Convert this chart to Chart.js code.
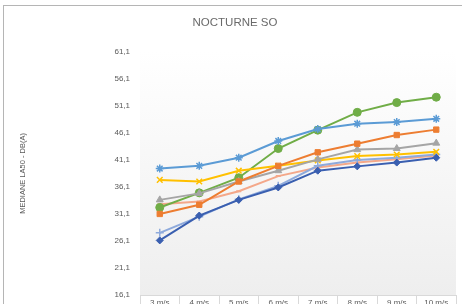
<!DOCTYPE html>
<html>
<head>
<meta charset="utf-8">
<script src="https://cdn.jsdelivr.net/npm/chart.js"></script>
<style>
  html, body { margin: 0; padding: 0; background: #fff; overflow: hidden; }
  #wrap { position: relative; width: 462px; height: 304px; overflow: hidden; }
  #frame { position: absolute; left: 3px; top: 5px; width: 500px; height: 400px;
           border-left: 1px solid #b5b5b5; border-top: 1px solid #b5b5b5; pointer-events: none; }
  canvas { position: absolute; left: 0; top: 0; }
</style>
</head>
<body>
<div id="wrap">
  <canvas id="chart" width="462" height="320"></canvas>
  <div id="frame"></div>
</div>
<script>
// wind speed categories
const categories = ['3 m/s', '4 m/s', '5 m/s', '6 m/s', '7 m/s', '8 m/s', '9 m/s', '10 m/s'];
const yTicks = [16.1, 21.1, 26.1, 31.1, 36.1, 41.1, 46.1, 51.1, 56.1, 61.1];

// values
const diamondSeries = [26.2, 30.8, 33.7, 36.0, 39.1, 39.9, 40.6, 41.5];
const squareSeries = [31.1, 32.8, 37.1, 40.0, 42.5, 44.1, 45.7, 46.7];
const triangleSeries = [33.7, 34.9, 37.1, 39.1, 41.2, 43.0, 43.2, 44.2];
const xSeries = [37.4, 37.1, 39.1, 40.0, 41.0, 41.8, 42.1, 42.6];
const starSeries = [39.5, 40.0, 41.5, 44.6, 46.8, 47.8, 48.1, 48.7];
const circleSeries = [32.3, 35.0, 37.8, 43.2, 46.6, 49.9, 51.7, 52.7];
const plusSeries = [27.6, 30.6, 33.8, 36.3, 40.0, 41.1, 41.5, 42.1];
const dashSeries = [32.9, 33.4, 35.3, 38.1, 39.7, 40.6, 41.2, 41.9];

const FONT = 'Liberation Sans, Arial, sans-serif';
const GREY = '#595959';

function line(label, data, color, style, radius, bw) {
  return {
    label: label,
    data: data,
    borderColor: color,
    backgroundColor: color,
    borderWidth: 2,
    pointStyle: style,
    pointRadius: radius,
    pointBorderWidth: bw,
    pointBorderColor: color,
    pointBackgroundColor: color,
    tension: 0
  };
}

// plot area gradient, like the Excel one
const plotBg = {
  id: 'plotBg',
  beforeDraw(chart) {
    const a = chart.chartArea;
    const ctx = chart.ctx;
    const g = ctx.createLinearGradient(0, a.top, 0, a.bottom);
    g.addColorStop(0, '#ffffff');
    g.addColorStop(1, '#eeeeee');
    ctx.save();
    ctx.fillStyle = g;
    ctx.fillRect(a.left, a.top - 10, a.right - a.left, a.bottom - a.top + 10);
    ctx.restore();
  }
};

new Chart(document.getElementById('chart').getContext('2d'), {
  type: 'line',
  data: {
    labels: categories,
    datasets: [
      line('Série 1', diamondSeries, '#3a5fb0', 'rectRot', 3.5, 1),
      line('Série 2', squareSeries, '#ed7d31', 'rect', 3.8, 1),
      line('Série 3', triangleSeries, '#a5a5a5', 'triangle', 4, 1),
      line('Série 4', xSeries, '#ffc000', 'crossRot', 4, 1.5),
      line('Série 5', starSeries, '#5b9bd5', 'star', 4, 1.5),
      line('Série 6', circleSeries, '#70ad47', 'circle', 4, 1),
      line('Série 7', plusSeries, '#8eaadc', 'cross', 4, 1.5),
      line('Série 8', dashSeries, '#f4a88a', 'line', 2.5, 2)
    ]
  },
  options: {
    responsive: false,
    animation: false,
    layout: { padding: { left: 10, right: 2, top: 0, bottom: 0 } },
    plugins: {
      legend: { display: false },
      tooltip: { enabled: false },
      title: {
        display: true,
        text: 'NOCTURNE SO',
        color: '#6a6a6a',
        font: { family: FONT, size: 11.5, weight: 'normal' },
        padding: { top: 16, bottom: 22 }
      }
    },
    scales: {
      x: {
        offset: true,
        grid: { offset: true, drawOnChartArea: false, drawTicks: true, tickLength: 14, color: '#d9d9d9' },
        border: { color: '#d9d9d9' },
        ticks: { color: GREY, font: { family: FONT, size: 8 }, padding: -11, maxRotation: 0, autoSkip: false },
        afterFit(s) { s.height = 25; }
      },
      y: {
        min: 16.1,
        max: 61.1,
        afterBuildTicks(s) { s.ticks = yTicks.map(v => ({ value: v })); },
        ticks: {
          color: GREY,
          font: { family: FONT, size: 8 },
          padding: 10,
          callback: v => v.toFixed(1).replace('.', ',')
        },
        grid: { display: false, drawTicks: false },
        border: { display: false },
        title: {
          display: true,
          text: 'MEDIANE LA50 - DB(A)',
          color: GREY,
          font: { family: FONT, size: 7.5 },
          padding: { top: 8, bottom: 0 }
        },
        afterFit(s) { s.width = 130; }
      }
    }
  },
  plugins: [plotBg]
});
</script>
</body>
</html>
